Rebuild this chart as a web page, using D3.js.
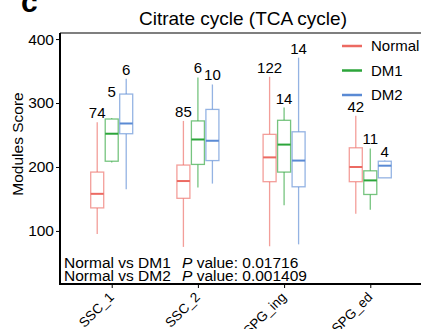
<!DOCTYPE html>
<html>
<head>
<meta charset="utf-8">
<script src="https://cdn.jsdelivr.net/npm/d3@7"></script>
<style>
  body { margin: 0; background: #fff; }
  svg { display: block; font-family: 'Liberation Sans', Arial, sans-serif; }
</style>
</head>
<body>
<svg id="chart" width="421" height="329"></svg>
<script>
// categories and groups
const stages = ['SSC_1', 'SSC_2', 'SPG_ing', 'SPG_ed']
const groups = ['Normal', 'DM1', 'DM2']
const colors = ['#EC6A62', '#2CA53A', '#5A8AD4']
const yTicks = [100, 200, 300, 400]

// box stats per stage, one entry per group: [min, q1, median, q3, max]
const normalStats = [
  [95, 136, 158, 192, 270],
  [75, 151, 178, 203, 272],
  [76, 177, 215, 251, 341],
  [127, 177, 200, 230, 280]
]
const dm1Stats = [
  [207, 209, 252, 275, 276],
  [168, 204, 243, 272, 340],
  [140, 192, 235, 273, 293],
  [133, 157, 179, 194, 229]
]
const dm2Stats = [
  [165, 252, 268, 314, 338],
  [174, 210, 241, 290, 329],
  [79, 169, 210, 255, 371],
  [183, 183, 202, 209, 210]
]
// highest observed value (where the cell count is written)
const normalTop = [270, 272, 341, 280]
const dm1Top = [303, 340, 293, 229]
const dm2Top = [338, 329, 371, 210]

// cell counts
const normalN = [74, 85, 122, 42]
const dm1N = [5, 6, 14, 11]
const dm2N = [6, 10, 14, 4]

const pLines = [
  ['Normal vs DM1', '0.01716'],
  ['Normal vs DM2', '0.001409']
]

const svg = d3.select('#chart')

const plotLeft = 60, plotRight = 422, plotTop = 33, plotBottom = 284

const x = d3.scalePoint().domain(stages).range([plotLeft, plotRight]).padding(0.6)
const y = d3.scaleLinear().domain([17, 409.5]).range([plotBottom, plotTop])
const offset = d3.scalePoint().domain(groups).range([-14.5, 14.5])
const boxW = 13

// build rows for drawing
const statsByGroup = [normalStats, dm1Stats, dm2Stats]
const topByGroup = [normalTop, dm1Top, dm2Top]
const nByGroup = [normalN, dm1N, dm2N]
const rows = []
groups.forEach((g, gi) => {
  stages.forEach((s, si) => {
    const st = statsByGroup[gi][si]
    rows.push({ stage: s, group: g, color: colors[gi], min: st[0], q1: st[1], med: st[2], q3: st[3], max: st[4], high: topByGroup[gi][si], n: nByGroup[gi][si] })
  })
})

// panel letter
svg.append('text')
  .attr('x', 21).attr('y', 12)
  .attr('font-size', 30).attr('font-weight', 'bold')
  .text('c')

// title
svg.append('text')
  .attr('x', 243).attr('y', 25)
  .attr('text-anchor', 'middle')
  .attr('font-size', 19)
  .text('Citrate cycle (TCA cycle)')

// frame lines: top border plus left and bottom axes
svg.append('line').attr('x1', plotLeft).attr('x2', 421).attr('y1', plotTop).attr('y2', plotTop)
  .attr('stroke', '#000').attr('stroke-width', 1.2)

const yAxis = svg.append('g')
  .attr('transform', `translate(${plotLeft},0)`)
  .call(d3.axisLeft(y).tickValues(yTicks).tickSize(4).tickPadding(2))
yAxis.select('.domain').remove()
yAxis.selectAll('text').attr('font-size', 15.5).attr('fill', '#000').attr('font-family', null)
yAxis.selectAll('line').attr('stroke', '#000')
svg.append('line').attr('x1', plotLeft).attr('x2', plotLeft).attr('y1', plotTop).attr('y2', plotBottom + 1)
  .attr('stroke', '#000').attr('stroke-width', 2)

const xAxis = svg.append('g')
  .attr('transform', `translate(0,${plotBottom})`)
  .call(d3.axisBottom(x).tickSize(4).tickFormat(''))
xAxis.select('.domain').remove()
xAxis.selectAll('line').attr('stroke', '#000')
svg.append('line').attr('x1', plotLeft).attr('x2', 421).attr('y1', plotBottom).attr('y2', plotBottom)
  .attr('stroke', '#000').attr('stroke-width', 2)

// rotated category labels
svg.selectAll('.xlab')
  .data(stages)
  .enter()
  .append('text')
  .attr('class', 'xlab')
  .attr('transform', d => `translate(${x(d) + 3},${plotBottom + 14}) rotate(-45)`)
  .attr('text-anchor', 'end')
  .attr('font-size', 13.5)
  .text(d => d)

// y axis title
svg.append('text')
  .attr('transform', 'translate(23,144) rotate(-90)')
  .attr('text-anchor', 'middle')
  .attr('font-size', 15.5)
  .text('Modules Score')

// boxes
const box = svg.selectAll('.box')
  .data(rows)
  .enter()
  .append('g')
  .attr('class', 'box')
  .attr('transform', d => `translate(${x(d.stage) + offset(d.group)},0)`)

box.append('line')
  .attr('y1', d => y(d.max)).attr('y2', d => y(d.q3))
  .attr('stroke', d => d.color).attr('stroke-opacity', 0.65).attr('stroke-width', 1.3)
box.append('line')
  .attr('y1', d => y(d.q1)).attr('y2', d => y(d.min))
  .attr('stroke', d => d.color).attr('stroke-opacity', 0.65).attr('stroke-width', 1.3)
box.append('rect')
  .attr('x', -boxW / 2).attr('width', boxW)
  .attr('y', d => y(d.q3)).attr('height', d => y(d.q1) - y(d.q3))
  .attr('fill', '#fff')
  .attr('stroke', d => d.color).attr('stroke-opacity', 0.65).attr('stroke-width', 1.3)
box.append('line')
  .attr('x1', -boxW / 2).attr('x2', boxW / 2)
  .attr('y1', d => y(d.med)).attr('y2', d => y(d.med))
  .attr('stroke', d => d.color).attr('stroke-width', 2)

// cell counts
box.append('text')
  .attr('y', d => y(d.high) - 4)
  .attr('text-anchor', 'middle')
  .attr('font-size', 15)
  .text(d => d.n)

// legend
const legend = svg.selectAll('.legend')
  .data(groups)
  .enter()
  .append('g')
  .attr('class', 'legend')
  .attr('transform', (d, i) => `translate(342,${46 + i * 24.5})`)
legend.append('line')
  .attr('x1', 0).attr('x2', 20)
  .attr('stroke', (d, i) => colors[i]).attr('stroke-width', 2.5)
legend.append('text')
  .attr('x', 29).attr('dy', '0.35em')
  .attr('font-size', 15)
  .text(d => d)

// p value notes
const notes = svg.selectAll('.note')
  .data(pLines)
  .enter()
  .append('g')
  .attr('class', 'note')
  .attr('transform', (d, i) => `translate(0,${268 + i * 12.5})`)
notes.append('text')
  .attr('x', 64)
  .attr('font-size', 15.5)
  .text(d => d[0])
const pText = notes.append('text')
  .attr('x', 182)
  .attr('font-size', 15.5)
pText.append('tspan').attr('font-style', 'italic').text('P')
pText.append('tspan').text(d => ' value: ' + d[1])
</script>
</body>
</html>
